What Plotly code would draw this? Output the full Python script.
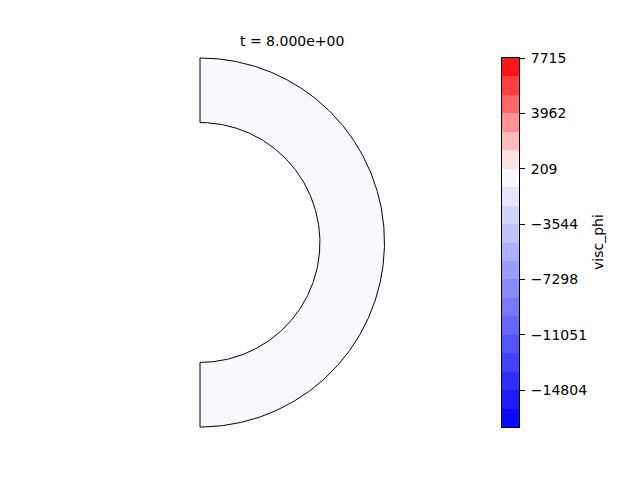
import numpy as np
import plotly.graph_objects as go

# ---- data ----
title_text = "t = 8.000e+00"
cbar_label = "visc_phi"
r_inner = 0.65
r_outer = 1.0
field_value = -420.0          # nearly uniform field value in the annulus
vmin, vmax = -17308.0, 7715.0
n_bands = 20
tick_vals = [7715, 3962, 209, -3544, -7298, -11051, -14804]
tick_text = ["7715", "3962", "209", "\u22123544", "\u22127298", "\u221211051", "\u221214804"]

levels = np.linspace(vmin, vmax, n_bands + 1)
mids = 0.5 * (levels[:-1] + levels[1:])


def bwr_two_slope(v):
    # TwoSlopeNorm centred at 0, then matplotlib 'bwr'
    if v >= 0:
        t = 0.5 + 0.5 * v / vmax
    else:
        t = 0.5 - 0.5 * v / vmin
    t = min(max(t, 0.0), 1.0)
    if t <= 0.5:
        r = g = 2 * t
        b = 1.0
    else:
        r = 1.0
        g = b = 2 * (1 - t)
    return "rgb(%d,%d,%d)" % (round(r * 255), round(g * 255), round(b * 255))


band_colors = [bwr_two_slope(m) for m in mids]
idx = int(np.searchsorted(levels, field_value) - 1)
fill_color = band_colors[idx]

# ---- geometry mapping (pixels) ----
W, H = 640, 480
OX, OY = 8, 8   # page offset of the plot div (body margin)
cx, cy, s = 200.0 - OX, 242.5 - OY, 184.5
x_range = [(0 - cx) / s, (W - cx) / s]
y_range = [(cy - H) / s, (cy - 0) / s]

th_out = np.linspace(np.pi / 2, -np.pi / 2, 300)
th_in = np.linspace(-np.pi / 2, np.pi / 2, 300)
xs = np.concatenate([r_outer * np.cos(th_out), r_inner * np.cos(th_in), [r_outer * np.cos(th_out[0])]])
ys = np.concatenate([r_outer * np.sin(th_out), r_inner * np.sin(th_in), [r_outer * np.sin(th_out[0])]])

fig = go.Figure()
fig.add_trace(go.Scatter(x=xs, y=ys, mode="lines", fill="toself", fillcolor=fill_color,
                         line=dict(color="black", width=1), hoverinfo="skip", showlegend=False))

colorscale = []
for i, c in enumerate(band_colors):
    colorscale.append([i / n_bands, c])
    colorscale.append([(i + 1) / n_bands, c])

fig.add_trace(go.Heatmap(x=[0, 1], y=levels, z=[[i] for i in range(n_bands)],
                         colorscale=colorscale, zmin=-0.5, zmax=n_bands - 0.5,
                         showscale=False, xaxis="x2", yaxis="y2", hoverinfo="skip"))

cb_x0, cb_x1, cb_y0, cb_y1 = 502 - OX, 519 - OX, 58 - OY, 427 - OY

fig.update_layout(
    width=W, height=H, margin=dict(l=0, r=0, t=0, b=0, pad=0, autoexpand=False),
    paper_bgcolor="white", plot_bgcolor="rgba(0,0,0,0)",
    font=dict(family="DejaVu Sans", size=14, color="black"),
    xaxis=dict(domain=[0, 1], range=x_range, visible=False, fixedrange=True, automargin=False),
    yaxis=dict(domain=[0, 1], range=y_range, visible=False, fixedrange=True, automargin=False),
    xaxis2=dict(domain=[cb_x0 / W, cb_x1 / W], range=[0, 1], anchor="y2", automargin=False,
                showticklabels=False, ticks="", showgrid=False, zeroline=False,
                showline=True, linecolor="black", linewidth=1, mirror=True),
    yaxis2=dict(domain=[(H - cb_y1) / H, (H - cb_y0) / H], range=[vmin, vmax], anchor="x2",
                side="right", tickvals=tick_vals, ticktext=tick_text, ticks="outside",
                ticklen=5, tickwidth=1, tickcolor="black", showgrid=False, zeroline=False,
                showline=True, linecolor="black", linewidth=1, mirror=True, automargin=False,
                ticklabelstandoff=3, tickfont=dict(size=14)),
    annotations=[
        dict(text=title_text, x=(291.5 - OX) / W, y=1 - (41 - OY) / H, xref="paper", yref="paper",
             showarrow=False, font=dict(size=14), xanchor="center", yanchor="middle"),
        dict(text=cbar_label, x=(598 - OX) / W, y=1 - (242 - OY) / H, xref="paper", yref="paper",
             showarrow=False, textangle=-90, font=dict(size=14), xanchor="center", yanchor="middle"),
    ],
)

fig.write_html("out.html")
